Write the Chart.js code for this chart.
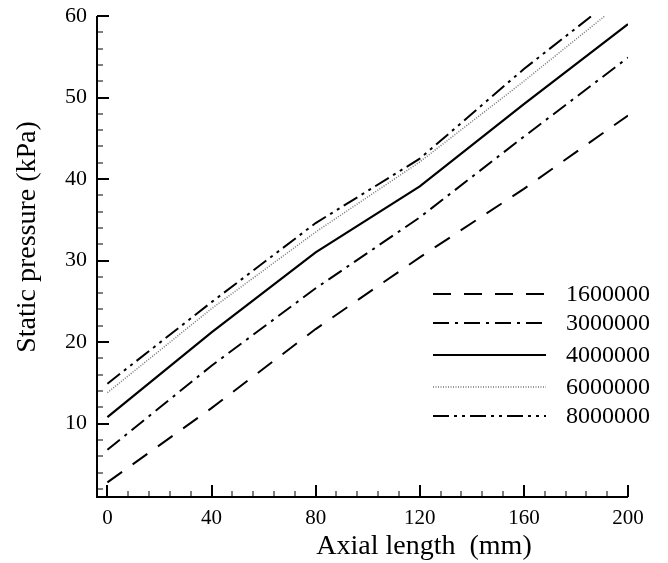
<!DOCTYPE html>
<html>
<head>
<meta charset="utf-8">
<script src="https://cdn.jsdelivr.net/npm/chart.js@4.4.1/dist/chart.umd.min.js"></script>
<style>
  html, body { margin: 0; padding: 0; background: #fff; }
  #wrap { width: 668px; height: 563px; position: relative; }
</style>
</head>
<body>
<div id="wrap"><canvas id="c"></canvas></div>
<script>
// axial positions (mm)
const axial = [0, 40, 80, 120, 160, 200];
// static pressure (kPa) per case
const p1600000 = [2.8, 11.9, 21.6, 30.4, 38.8, 47.8];
const p3000000 = [6.8, 17.1, 26.6, 35.3, 45.2, 54.9];
const p4000000 = [10.8, 21.2, 31.0, 39.1, 49.2, 59.0];
const p6000000 = [13.8, 24.1, 33.5, 42.1, 52.0, 62.3];
const p8000000 = [14.9, 24.9, 34.6, 42.5, 53.5, 63.5];
const seriesNames = ['1600000', '3000000', '4000000', '6000000', '8000000'];
const xTicks = [0, 40, 80, 120, 160, 200];
const yTicks = [10, 20, 30, 40, 50, 60];

const FONT = '"Liberation Serif", "Times New Roman", serif';

function pts(vals) {
  return axial.map(function (x, i) { return { x: x, y: vals[i] }; });
}

const styles = [
  { dash: [18, 13], width: 2, color: '#000' },
  { dash: [16, 6, 3, 6], width: 2, color: '#000' },
  { dash: [], width: 2.2, color: '#000' },
  { dash: [1, 1.5], width: 1.5, color: '#777' },
  { dash: [16, 5, 3, 5, 3, 5], width: 2, color: '#000' },
];

const allVals = [p1600000, p3000000, p4000000, p6000000, p8000000];
const datasets = allVals.map(function (v, i) {
  return {
    label: seriesNames[i],
    data: pts(v),
    borderColor: styles[i].color,
    borderWidth: styles[i].width,
    borderDash: styles[i].dash,
    pointRadius: 0,
    fill: false,
    tension: 0,
  };
});

// inward ticks, axis lines, axis titles and the legend
const axesPlugin = {
  id: 'axesPlugin',
  afterDraw: function (chart) {
    const c = chart.ctx;
    const a = chart.chartArea;
    const xs = chart.scales.x, ys = chart.scales.y;
    c.save();
    c.strokeStyle = '#000';
    c.setLineDash([]);
    c.lineWidth = 2;
    c.beginPath();
    c.moveTo(a.left, a.top);
    c.lineTo(a.left, a.bottom);
    c.lineTo(a.right, a.bottom);
    c.stroke();

    // x ticks
    for (let v = 0; v <= 200; v += 8) {
      const px = Math.round(xs.getPixelForValue(v));
      const major = v % 40 === 0;
      c.lineWidth = major ? 2 : 1;
      c.beginPath();
      c.moveTo(px, a.bottom);
      c.lineTo(px, a.bottom - (major ? 12 : 6));
      c.stroke();
    }
    // y ticks
    for (let v = 2; v <= 60; v += 2) {
      const py = Math.round(ys.getPixelForValue(v));
      const major = v % 10 === 0;
      c.lineWidth = major ? 2 : 1;
      c.beginPath();
      c.moveTo(a.left, py);
      c.lineTo(a.left + (major ? 12 : 6), py);
      c.stroke();
    }

    // axis titles
    c.fillStyle = '#000';
    c.font = '28px ' + FONT;
    c.textAlign = 'center';
    c.textBaseline = 'middle';
    c.fillText('Axial length  (mm)', 424, 547);
    c.save();
    c.translate(28, 237);
    c.rotate(-Math.PI / 2);
    c.fillText('Static pressure (kPa)', 0, 0);
    c.restore();

    // legend
    const rows = [294, 323, 355, 387, 416];
    c.font = '24px ' + FONT;
    c.textAlign = 'left';
    datasets.forEach(function (d, i) {
      c.strokeStyle = d.borderColor;
      c.lineWidth = d.borderWidth;
      c.setLineDash(d.borderDash);
      c.beginPath();
      c.moveTo(433, rows[i]);
      c.lineTo(546, rows[i]);
      c.stroke();
      c.setLineDash([]);
      c.fillText(d.label, 566, rows[i] + 1);
    });
    c.restore();
  }
};

new Chart(document.getElementById('c'), {
  type: 'line',
  data: { datasets: datasets },
  options: {
    responsive: true,
    maintainAspectRatio: false,
    animation: false,
    layout: { padding: { left: 0, top: 16, right: 40, bottom: 0 } },
    plugins: { legend: { display: false }, tooltip: { enabled: false } },
    scales: {
      x: {
        type: 'linear',
        min: -4,
        max: 200,
        grid: { display: false, drawTicks: false },
        border: { display: false },
        afterBuildTicks: function (s) { s.ticks = xTicks.map(function (v) { return { value: v }; }); },
        afterFit: function (s) { s.height = 66; s.paddingLeft = 0; s.paddingRight = 0; },
        ticks: { color: '#000', font: { family: FONT, size: 21 }, padding: 9, maxRotation: 0 },
      },
      y: {
        type: 'linear',
        min: 1,
        max: 60,
        grid: { display: false, drawTicks: false },
        border: { display: false },
        afterBuildTicks: function (s) { s.ticks = yTicks.map(function (v) { return { value: v }; }); },
        afterFit: function (s) { s.width = 97; s.paddingTop = 0; s.paddingBottom = 0; },
        ticks: { color: '#000', font: { family: FONT, size: 22 }, padding: 10 },
      },
    },
  },
  plugins: [axesPlugin],
});
</script>
</body>
</html>
